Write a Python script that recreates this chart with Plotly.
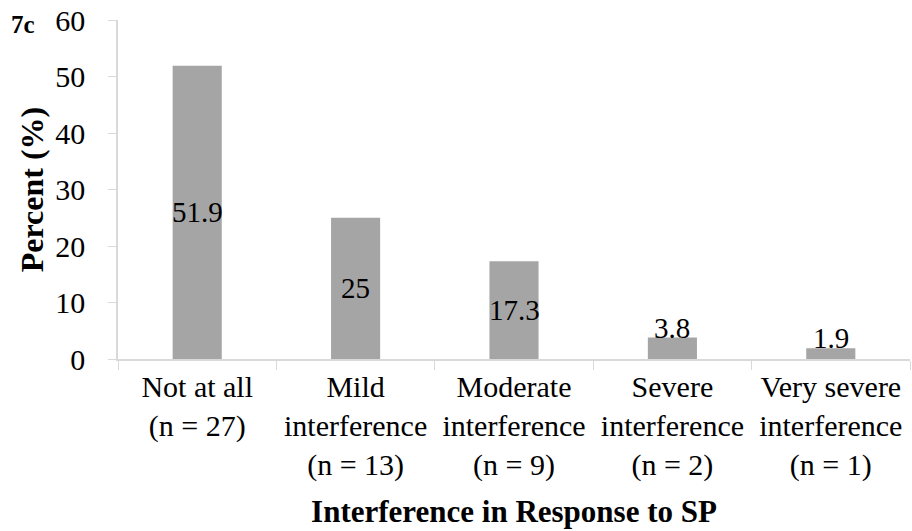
import plotly.graph_objects as go

# Interference categories and their share of respondents
categories = [
    "Not at all<br>(n = 27)",
    "Mild<br>interference<br>(n = 13)",
    "Moderate<br>interference<br>(n = 9)",
    "Severe<br>interference<br>(n = 2)",
    "Very severe<br>interference<br>(n = 1)",
]
percent = [51.9, 25, 17.3, 3.8, 1.9]
label_inside = [True, True, True, False, False]
y_ticks = [0, 10, 20, 30, 40, 50, 60]

FONT = "Times New Roman, Tinos, Liberation Serif, serif"
AXIS_COLOR = "#D9D9D9"
BAR_COLOR = "#A5A5A5"

fig = go.Figure(
    go.Bar(
        x=categories,
        y=percent,
        width=0.31,
        marker=dict(color=BAR_COLOR, line=dict(width=0)),
        hoverinfo="x+y",
    )
)

# value labels: centred inside tall bars, sitting on top of short ones
value_labels = []
for cat, v, inside in zip(categories, percent, label_inside):
    value_labels.append(
        dict(
            text=f"{v:g}",
            x=cat,
            y=v / 2 if inside else v,
            xref="x", yref="y",
            xanchor="center",
            yanchor="middle" if inside else "bottom",
            yshift=0 if inside else -8,
            showarrow=False,
            font=dict(family=FONT, size=29, color="black"),
        )
    )

fig.update_layout(
    width=912,
    height=531,
    autosize=False,
    margin=dict(l=118, r=2, t=20, b=172),
    paper_bgcolor="white",
    plot_bgcolor="white",
    showlegend=False,
    font=dict(family=FONT, size=30, color="black"),
    annotations=value_labels + [
        dict(
            text="<b>7c</b>",
            xref="paper", yref="paper",
            x=-0.12, y=0.988,
            xanchor="center", yanchor="middle",
            showarrow=False,
            font=dict(family=FONT, size=25, color="black"),
        )
    ],
)

fig.update_xaxes(
    type="category",
    tickson="boundaries",
    ticks="outside",
    ticklen=9,
    tickcolor=AXIS_COLOR,
    showline=True,
    linecolor=AXIS_COLOR,
    linewidth=1.5,
    showgrid=False,
    tickfont=dict(family=FONT, size=30, color="black"),
    title=dict(
        text="<b>Interference in Response to SP</b>",
        font=dict(family=FONT, size=31, color="black"),
        standoff=20,
    ),
    automargin=False,
)

fig.update_yaxes(
    range=[0, 60],
    tickvals=y_ticks,
    ticks="outside",
    ticklen=8,
    tickcolor=AXIS_COLOR,
    showline=True,
    linecolor=AXIS_COLOR,
    linewidth=1.5,
    showgrid=False,
    zeroline=False,
    ticklabelstandoff=17,
    tickfont=dict(family=FONT, size=30, color="black"),
    title=dict(
        text="<b>Percent (%)</b>",
        font=dict(family=FONT, size=32, color="black"),
        standoff=2,
    ),
    automargin=False,
)

fig.write_html("out.html")
